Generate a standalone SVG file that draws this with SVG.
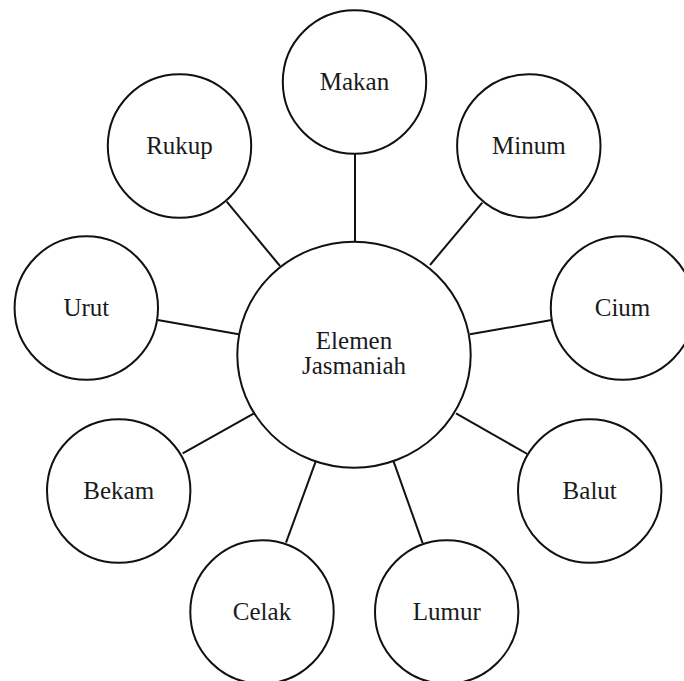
<svg xmlns="http://www.w3.org/2000/svg" width="684" height="681" viewBox="0 0 684 681">
<style>
.n{fill:#fff;stroke:#111;stroke-width:2}
.c line{stroke:#111;stroke-width:2}
text{font-family:"Liberation Serif","Times New Roman",serif;font-size:25px;fill:#1a1a1a;text-anchor:middle}
</style>
<rect width="684" height="681" fill="#fff"/>
<g class="c" id="connectors">
<line x1="355" y1="154" x2="355" y2="242"/>
<line x1="482.3" y1="202.7" x2="430" y2="265"/>
<line x1="551.7" y1="320" x2="470" y2="334.3"/>
<line x1="527.3" y1="454" x2="456" y2="413.3"/>
<line x1="422.7" y1="543.3" x2="393.3" y2="460.7"/>
<line x1="286" y1="542.7" x2="316" y2="460.7"/>
<line x1="182.7" y1="453.3" x2="254" y2="413.3"/>
<line x1="157.7" y1="320" x2="238.7" y2="334.3"/>
<line x1="226.7" y1="201.7" x2="280" y2="266"/>
</g>
<g id="center"><ellipse class="n" cx="354" cy="354.7" rx="116.7" ry="113"/><text x="354" y="349.3">Elemen</text><text x="354" y="374.3">Jasmaniah</text></g>
<g id="makan"><circle class="n" cx="354.5" cy="82" r="71.7"/><text x="354.5" y="90">Makan</text></g>
<g id="minum"><circle class="n" cx="528.8" cy="146" r="71.7"/><text x="528.8" y="154">Minum</text></g>
<g id="cium"><circle class="n" cx="622.5" cy="308" r="71.7"/><text x="622.5" y="316">Cium</text></g>
<g id="balut"><circle class="n" cx="589.7" cy="491" r="71.7"/><text x="589.7" y="499">Balut</text></g>
<g id="lumur"><circle class="n" cx="446.7" cy="612" r="71.7"/><text x="446.7" y="620">Lumur</text></g>
<g id="celak"><circle class="n" cx="262" cy="612" r="71.7"/><text x="262" y="620">Celak</text></g>
<g id="bekam"><circle class="n" cx="118.7" cy="491" r="71.7"/><text x="118.7" y="499">Bekam</text></g>
<g id="urut"><circle class="n" cx="86.3" cy="308" r="71.7"/><text x="86.3" y="316">Urut</text></g>
<g id="rukup"><circle class="n" cx="179.5" cy="146" r="71.7"/><text x="179.5" y="154">Rukup</text></g>
</svg>
